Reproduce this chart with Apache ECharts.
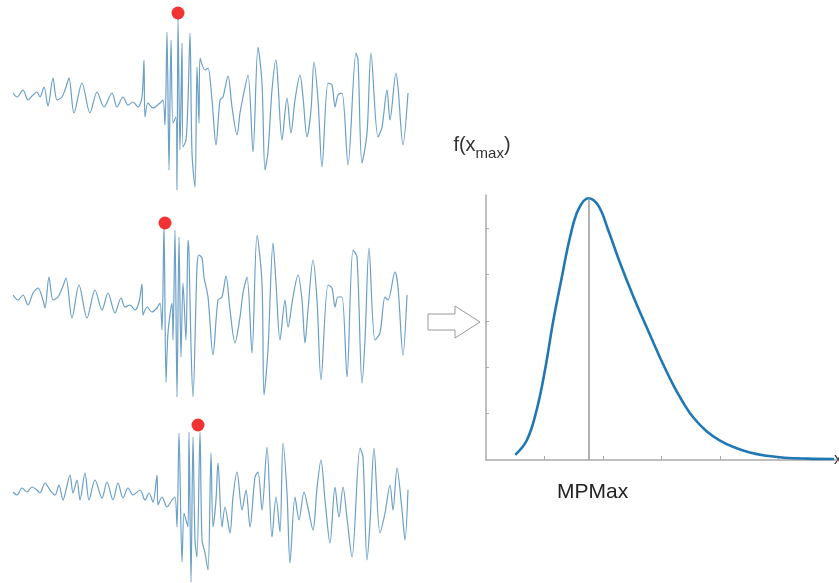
<!DOCTYPE html>
<html>
<head>
<meta charset="utf-8">
<script src="https://cdn.jsdelivr.net/npm/echarts@6/dist/echarts.min.js"></script>
<style>
  html, body { margin: 0; padding: 0; background: #fff; }
  #main { width: 839px; height: 583px; }
</style>
</head>
<body>
<div id="main"></div>
<script>
// three records, [time, amplitude]
var wave1 = [[0.1,0.2],[0.5,-0.2],[1.1,0.5],[1.6,-0.5],[2.1,0],[2.5,0.3],[2.8,-0.2],[3.2,0.8],[3.6,-1.1],[4.1,1.7],[4.5,-0.5],[5.0,-0.2],[5.4,0.8],[5.7,1.7],[6.2,-1.8],[7.0,1.2],[7.8,-1.8],[8.5,0.3],[9.2,-1.2],[10.0,0.2],[10.5,-1.2],[11.1,-0.2],[11.6,-1.0],[12.1,-0.7],[12.6,-1.2],[13.0,-0.2],[13.2,3.5],[13.3,-2.2],[13.6,-0.8],[14.1,-1.3],[14.8,-0.8],[15.1,-0.5],[15.3,-3.0],[15.5,6.3],[15.7,-7.5],[15.9,5.5],[16.1,-2.8],[16.4,-2.2],[16.5,-9.5],[16.6,7.7],[16.8,-5.5],[17.0,5.2],[17.1,-5.2],[17.4,-4.5],[17.6,-0.5],[17.8,6.2],[18.0,-5.8],[18.3,-9.2],[18.5,2.8],[18.7,-2.8],[18.8,3.7],[19.3,2.5],[19.6,2.7],[20.0,-0.5],[20.4,-5.0],[20.8,-0.5],[21.1,-0.2],[21.6,1.9],[22.0,-1.2],[22.5,-4.0],[22.8,-1.8],[23.1,-0.2],[23.6,2.0],[24.1,-5.7],[24.6,4.8],[25.0,1.2],[25.3,-7.5],[25.6,-5.7],[26.0,0.5],[26.4,3.5],[26.6,1.2],[27.0,-4.5],[27.5,-0.3],[27.9,-3.8],[28.3,-0.5],[28.8,2.0],[29.1,-0.2],[29.5,-4.2],[29.9,-1.5],[30.2,3.3],[30.6,-0.5],[31.0,-7.2],[31.6,1.2],[32.0,1.0],[32.3,-1.2],[32.6,0],[33.0,0.2],[33.6,-7.0],[34.4,4.2],[34.6,3.5],[35.0,-6.8],[35.5,-3.8],[35.9,4.2],[36.6,-4.2],[37.0,-3.2],[37.5,0.5],[37.8,-2.5],[38.4,2.2],[38.6,0.8],[39.1,-5.0],[39.6,0.2]];
var wave2 = [[0.1,0.3],[0.6,-0.2],[1.1,0.3],[1.6,-0.7],[2.1,0.5],[2.6,1.0],[3.1,-0.2],[3.3,-1.0],[3.7,2.1],[4.1,-0.2],[4.6,0.1],[5.1,1.2],[5.4,2.0],[6.0,-2.0],[6.7,1.3],[7.5,-2.0],[8.3,0.8],[9.0,-1.2],[9.6,0.5],[10.3,-1.5],[10.9,0],[11.3,-0.9],[11.8,-0.7],[12.3,-1.2],[12.7,-0.4],[13.0,1.4],[13.1,-1.7],[13.5,-0.9],[14.0,-1.4],[14.5,-1.0],[14.8,-0.5],[15.0,-3.2],[15.2,7.3],[15.4,-8.4],[15.6,-3.5],[16.0,-0.5],[16.1,-4.2],[16.3,6.8],[16.5,-9.9],[16.7,6.1],[16.9,-5.9],[17.1,1.5],[17.4,-4.2],[17.6,5.8],[17.7,4.5],[17.9,-4.9],[18.1,-9.9],[18.5,3.1],[18.7,4.3],[19.0,4.0],[19.2,2.1],[19.6,0.1],[20.1,-5.7],[20.6,-0.2],[21.0,0.1],[21.4,2.2],[21.8,-1.2],[22.3,-4.5],[22.8,-1.9],[23.1,0.5],[23.5,2.1],[24.0,-5.5],[24.5,6.3],[25.0,1.5],[25.2,-9.7],[25.6,-5.2],[26.1,5.5],[26.4,1.5],[26.8,-4.2],[27.3,-0.2],[27.6,-2.9],[28.1,0.1],[28.6,2.3],[29.0,-0.2],[29.3,-4.5],[29.6,-1.2],[30.1,3.8],[30.5,-0.2],[30.9,-8.2],[31.6,1.3],[32.0,1.0],[32.3,-0.9],[32.6,0.1],[33.0,0.1],[33.5,-7.9],[34.1,4.8],[34.5,4.1],[35.0,-8.5],[35.3,-4.2],[35.7,5.0],[36.3,-4.2],[36.8,-3.5],[37.3,0.1],[37.6,-0.2],[38.3,2.6],[38.6,1.1],[39.1,-5.7],[39.5,0.3]];
var wave3 = [[0.1,0],[0.5,-0.3],[1.0,0.4],[1.5,0],[2.0,0.5],[2.5,0.2],[2.8,-0.1],[3.3,0.9],[3.8,0.2],[4.3,-0.3],[4.7,0.7],[5.1,-0.8],[5.4,0.2],[5.8,1.7],[6.1,-0.1],[6.5,1.2],[6.8,-0.8],[7.3,1.9],[7.7,-0.8],[8.3,1.2],[9.0,-0.6],[9.5,1.0],[10.1,-0.8],[10.6,0.9],[11.1,-0.6],[11.6,0.4],[12.1,-0.3],[12.8,0.2],[13.3,-0.8],[13.7,-0.1],[14.1,-1.0],[14.5,1.7],[14.6,-1.3],[15.0,-0.5],[15.5,-1.5],[16.0,-0.8],[16.3,-0.5],[16.5,-3.5],[16.7,5.9],[17.0,-7.0],[17.2,-2.1],[17.4,-2.8],[17.6,-3.5],[17.7,6.0],[17.9,-9.0],[18.1,5.5],[18.3,-4.8],[18.5,-6.5],[18.8,6.0],[19.0,-4.8],[19.3,-6.1],[19.6,-7.8],[19.9,3.9],[20.1,-3.5],[20.4,-0.8],[20.6,2.9],[21.0,-3.5],[21.3,-1.5],[21.8,-4.1],[22.1,-0.5],[22.5,2.0],[23.0,-1.8],[23.4,0.2],[23.8,-3.5],[24.3,1.5],[24.6,2.0],[25.0,-1.8],[25.5,4.5],[26.0,-4.5],[26.4,-0.5],[26.8,-4.0],[27.1,4.9],[27.5,-0.1],[27.8,-7.1],[28.3,-0.5],[28.7,-2.8],[29.2,0],[29.6,-1.6],[30.1,-3.8],[30.5,0.4],[30.9,3.2],[31.3,-0.8],[31.8,-5.1],[32.3,0.5],[32.7,-2.5],[33.1,0.5],[33.5,-2.6],[34.0,-6.5],[34.8,4.4],[35.1,3.5],[35.5,-6.8],[35.8,-3.1],[36.2,4.4],[36.8,-4.1],[37.3,-2.1],[37.8,0.7],[38.1,-1.8],[38.5,2.4],[39.0,-1.8],[39.3,-4.8],[39.6,0.2]];

// the picked maximum of each record (red dots)
var peaks = [[16.6, 8.2], [15.3, 7.5], [18.6, 6.7]];

// distribution of the maxima
var curveX = [0.50, 0.70, 0.87, 1.01, 1.15, 1.29, 1.44, 1.58, 1.75, 1.92, 2.09, 2.29, 2.52, 2.75, 2.97, 3.20, 3.37, 3.54, 3.77, 4.00, 4.23, 4.51, 4.80, 5.10, 5.50, 5.95];
var curveY = [0.11, 0.43, 1.10, 1.95, 3.00, 3.90, 4.82, 5.40, 5.64, 5.48, 4.95, 4.25, 3.52, 2.85, 2.22, 1.62, 1.24, 0.92, 0.62, 0.42, 0.28, 0.16, 0.09, 0.05, 0.03, 0.02];
var MPMAX = 1.75;
var PEAK = 5.64;
var axisTicks = [1, 2, 3, 4, 5];

var waves = [wave1, wave2, wave3];
var waveTops = [5, 208, 402]; // where each record sits on the page

var chart = echarts.init(document.getElementById('main'));

var grids = [], xAxes = [], yAxes = [], series = [];

for (var i = 0; i < waves.length; i++) {
  grids.push({ left: 12, width: 400, top: waveTops[i], height: 190, outerBoundsMode: 'none' });
  xAxes.push({ type: 'value', gridIndex: i, min: 0, max: 40, show: false });
  yAxes.push({ type: 'value', gridIndex: i, min: -10, max: 9, show: false });
  series.push({
    type: 'line', xAxisIndex: i, yAxisIndex: i, data: waves[i],
    symbol: 'none', silent: true, smooth: 0.3,
    lineStyle: { color: '#6a9fc6', width: 1.2 }
  });
  series.push({
    type: 'scatter', xAxisIndex: i, yAxisIndex: i, data: [peaks[i]],
    symbolSize: 13, itemStyle: { color: '#ee0000' }, z: 5
  });
}

// pdf panel
grids.push({ left: 486, right: 2, top: 195, bottom: 123, outerBoundsMode: 'none' });
xAxes.push({
  type: 'value', gridIndex: 3, min: 0, max: 6,
  name: 'x', nameLocation: 'end', nameGap: -3,
  nameTextStyle: { color: '#333', fontSize: 16, fontFamily: 'Liberation Sans', verticalAlign: 'middle', padding: [8, 0, 0, 0] },
  axisLine: { lineStyle: { color: '#aaa', width: 1.5 } },
  axisTick: { inside: true, length: 4, customValues: axisTicks, lineStyle: { color: '#aaa' } },
  axisLabel: { show: false },
  splitLine: { show: false }
});
yAxes.push({
  type: 'value', gridIndex: 3, min: 0, max: 5.71,
  name: '{a|f(x}{b|max}{a|)}', nameLocation: 'end', nameGap: 34,
  nameTextStyle: {
    padding: [0, 8, 0, 0],
    rich: {
      a: { fontSize: 20, color: '#333', fontFamily: 'Liberation Sans', lineHeight: 26, verticalAlign: 'top' },
      b: { fontSize: 15, color: '#333', fontFamily: 'Liberation Sans', lineHeight: 20, verticalAlign: 'bottom' }
    }
  },
  axisLine: { show: true, lineStyle: { color: '#aaa', width: 1.5 } },
  axisTick: { show: true, inside: true, length: 3, customValues: axisTicks, lineStyle: { color: '#aaa' } },
  axisLabel: { show: false },
  splitLine: { show: false }
});

var curve = [];
for (var k = 0; k < curveX.length; k++) curve.push([curveX[k], curveY[k]]);

series.push({
  type: 'line', xAxisIndex: 3, yAxisIndex: 3, data: curve,
  smooth: 0.4, symbol: 'none', silent: true,
  lineStyle: { color: '#1f77b4', width: 2.6 },
  markLine: {
    symbol: 'none', silent: true, label: { show: false },
    lineStyle: { color: '#999', type: 'solid', width: 1.5 },
    data: [[{ coord: [MPMAX, 0] }, { coord: [MPMAX, PEAK] }]]
  },
  z: 3
});

chart.setOption({
  backgroundColor: '#fff',
  animation: false,
  grid: grids,
  xAxis: xAxes,
  yAxis: yAxes,
  series: series,
  graphic: [
    { // hollow arrow between the records and the pdf
      type: 'polygon',
      shape: { points: [[428, 314], [455, 314], [455, 306], [480, 322], [455, 338], [455, 330], [428, 330]] },
      style: { fill: '#fff', stroke: '#999', lineWidth: 1 }
    },
    {
      type: 'text', left: 557, top: 482,
      style: { text: 'MPMax', fontSize: 21, fill: '#222', fontFamily: 'Liberation Sans' }
    }
  ]
});
</script>
</body>
</html>
